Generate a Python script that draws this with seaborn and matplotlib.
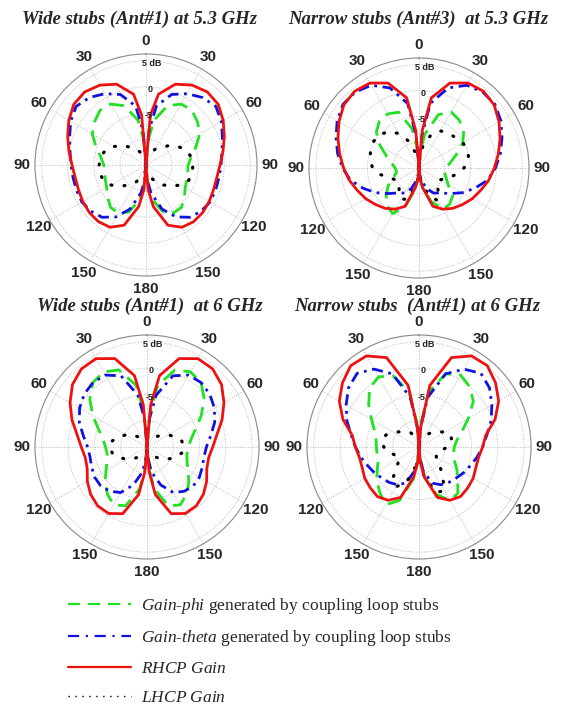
import numpy as np
import matplotlib
matplotlib.use('Agg')
import matplotlib.pyplot as plt
from matplotlib.lines import Line2D
import seaborn as sns

sns.set_style('white')
plt.rcParams['font.family'] = ['Liberation Sans', 'DejaVu Sans']
plt.rcParams['mathtext.fontset'] = 'custom'
plt.rcParams['mathtext.rm'] = 'Liberation Serif'
plt.rcParams['mathtext.it'] = 'Liberation Serif:italic'

# angle in degrees, clockwise from 0 at the top (extra points near the nulls)
angles = [0, 5, 10, 20, 30, 40, 50, 60, 70, 80, 90, 100, 110, 120, 130, 140, 150, 160, 170, 175,
          180, 185, 190, 200, 210, 220, 230, 240, 250, 260, 270, 280, 290, 300, 310, 320, 330, 340, 350, 355]
theta_labels = ['0', '30', '60', '90', '120', '150', '180', '150', '120', '90', '60', '30']
ring_values = [-10, -5, 0, 5]
ring_labels = ['', '-5', '0', '5 dB']

# gain in dB at the angles above
# Wide stubs (Ant#1) at 5.3 GHz
wide53_phi = [-15, -10.2, -6.3, -2.9, -1.5, -1.3, -2.1, -3.1, -4.8, -6.2, -6.9, -6.9, -6.7, -6.3, -5.4, -4.4, -4.4, -5.4, -8.3, -11.5,
              -15, -11.5, -8.3, -5.4, -4.4, -4.4, -5.4, -6.3, -6.7, -6.9, -6.9, -6.2, -4.8, -3.1, -2.1, -1.3, -1.5, -2.9, -6.3, -10.2]
wide53_theta = [-15, -8.3, -3.5, -0.6, 0.8, 1.9, 2.5, 1.7, 0.6, -0.2, -0.6, -0.8, -0.8, -0.8, -1.2, -1.9, -3.5, -6.0, -9.6, -12.1,
                -15, -12.1, -9.6, -6.0, -3.5, -1.9, -1.2, -0.8, -0.8, -0.8, -0.6, -0.2, 0.6, 1.7, 2.5, 1.9, 0.8, -0.6, -3.5, -8.3]
wide53_rhcp = [-15, -5.4, -1.2, 1.5, 2.7, 3.3, 3.1, 2.1, 1.0, 0.0, -0.8, -1.2, -1.2, -1.0, -0.8, -0.8, -1.2, -2.7, -6.9, -10.2,
               -15, -10.2, -6.9, -2.7, -1.2, -0.8, -0.8, -1.0, -1.2, -1.2, -0.8, 0.0, 1.0, 2.1, 3.1, 3.3, 2.7, 1.5, -1.2, -5.4]
wide53_lhcp = [-14, -13.8, -13.5, -12.7, -11.5, -10.6, -9.2, -7.9, -6.7, -6.2, -6.0, -6.0, -6.3, -7.3, -8.7, -10.0, -11.3, -12.5, -13.5, -13.8,
               -14, -13.8, -13.5, -12.5, -11.3, -10.0, -8.7, -7.3, -6.3, -6.0, -6.0, -6.2, -6.7, -7.9, -9.2, -10.6, -11.5, -12.7, -13.5, -13.8]

# Narrow stubs (Ant#3) at 5.3 GHz
narrow53_phi = [-15, -11.5, -8.3, -4.0, -2.5, -2.9, -3.7, -5.2, -7.3, -8.8, -9.8, -10.0, -9.4, -8.5, -6.5, -5.8, -5.8, -8.1, -11.2, -13.5,
                -15, -13.0, -10.8, -6.9, -4.8, -5.4, -6.7, -8.1, -9.8, -10.6, -10.4, -9.6, -8.3, -6.3, -4.2, -3.1, -2.9, -3.5, -7.3, -11.2]
narrow53_theta = [-15, -8.7, -2.3, 1.5, 3.5, 4.2, 4.2, 3.3, 2.1, 1.0, -0.2, -1.5, -3.5, -5.4, -7.3, -8.7, -9.4, -10.8, -12.7, -14,
                  -15, -14, -12.7, -10.8, -9.4, -8.7, -7.3, -5.4, -3.5, -1.5, -0.2, 1.0, 2.1, 3.3, 4.2, 4.2, 3.5, 1.5, -2.3, -8.7]
narrow53_rhcp = [-15, -7.7, -1.2, 2.5, 4.0, 4.4, 4.0, 2.9, 1.7, 0.6, -0.4, -1.3, -2.3, -3.1, -4.0, -4.8, -5.8, -7.1, -11.2, -13.1,
                 -15, -13.1, -11.2, -7.1, -5.8, -4.8, -4.0, -3.1, -2.3, -1.3, -0.4, 0.6, 1.7, 2.9, 4.0, 4.4, 4.0, 2.5, -1.2, -7.7]
narrow53_lhcp = [-13.5, -12.5, -10.8, -8.1, -6.7, -6.2, -5.8, -5.2, -5.0, -5.2, -6.3, -7.7, -9.2, -10.4, -10.6, -9.2, -7.7, -9.2, -12.1, -13.0,
                 -14, -13.0, -11.5, -8.5, -8.1, -9.0, -10.0, -10.2, -9.2, -7.5, -6.0, -5.4, -5.0, -4.8, -5.0, -5.8, -7.3, -9.6, -12.5, -13.2]

# Wide stubs (Ant#1) at 6 GHz
wide6_phi = [-15, -8.3, -3.1, 0.6, 1.5, 1.0, -0.8, -3.1, -5.2, -6.5, -7.1, -7.3, -6.9, -6.0, -4.6, -3.3, -2.3, -3.1, -6.9, -10.8,
             -15, -10.8, -6.9, -3.1, -2.3, -3.3, -4.6, -6.0, -6.9, -7.3, -7.1, -6.5, -5.2, -3.1, -0.8, 1.0, 1.5, 0.6, -3.1, -8.3]
wide6_theta = [-15, -9.6, -5.0, -0.6, 0.8, 1.0, 0.6, -0.2, -1.3, -2.7, -3.7, -4.0, -3.8, -3.5, -3.5, -4.0, -5.0, -7.3, -10.2, -13,
               -15, -13, -10.2, -7.3, -5.0, -4.0, -3.5, -3.5, -3.8, -4.0, -3.7, -2.7, -1.3, -0.2, 0.6, 1.0, 0.8, -0.6, -5.0, -9.6]
wide6_rhcp = [-15, -6.9, -1.2, 2.9, 4.4, 4.4, 3.5, 1.9, 0.2, -1.5, -2.5, -3.1, -2.9, -1.9, -1.0, -0.4, -0.4, -1.5, -5.8, -10.2,
              -15, -10.2, -5.8, -1.5, -0.4, -0.4, -1.0, -1.9, -2.9, -3.1, -2.5, -1.5, 0.2, 1.9, 3.5, 4.4, 4.4, 2.9, -1.2, -6.9]
wide6_lhcp = [-14.4, -14.3, -14.2, -13.8, -13.3, -12.5, -11.5, -10.4, -9.2, -8.3, -7.9, -8.3, -9.2, -10.4, -11.5, -12.5, -13.3, -13.8, -14.2, -14.3,
              -14.4, -14.3, -14.2, -13.8, -13.3, -12.5, -11.5, -10.4, -9.2, -8.3, -7.9, -8.3, -9.2, -10.4, -11.5, -12.5, -13.3, -13.8, -14.2, -14.3]

# Narrow stubs (Ant#1) at 6 GHz
narrow6_phi = [-15, -10.2, -4.4, -0.2, 0.8, 0.0, -1.5, -4.2, -6.3, -7.7, -8.3, -8.3, -7.9, -6.7, -5.4, -3.5, -3.3, -5.4, -9.2, -12.5,
               -15, -12.0, -8.8, -4.2, -2.3, -3.5, -4.6, -5.8, -6.7, -6.9, -6.9, -6.7, -6.0, -4.6, -2.5, -0.4, 0.4, -0.6, -4.4, -10.2]
narrow6_theta = [-15, -11.2, -5.4, -0.2, 2.1, 3.3, 2.5, 1.0, -0.4, -1.9, -2.9, -3.8, -4.6, -5.2, -5.8, -6.2, -6.7, -7.7, -10.4, -13,
                 -15, -13, -10.4, -7.7, -6.7, -6.2, -5.8, -5.2, -4.6, -3.8, -2.9, -1.9, -0.4, 1.0, 2.5, 3.3, 2.1, -0.2, -5.4, -11.2]
narrow6_rhcp = [-15, -11.2, -3.1, 3.1, 5.0, 5.2, 4.0, 2.5, 0.4, -2.1, -2.9, -3.5, -3.5, -3.1, -2.9, -2.7, -3.3, -4.8, -9.2, -12.1,
                -15, -12.1, -9.2, -4.8, -3.3, -2.7, -2.9, -3.1, -3.5, -3.5, -2.9, -2.1, 0.4, 2.5, 4.0, 5.2, 5.0, 3.1, -3.1, -11.2]
narrow6_lhcp = [-14, -14, -13.7, -13.1, -12.3, -11.5, -10.6, -9.2, -8.5, -8.7, -9.6, -10.8, -11.5, -11.2, -10.0, -8.0, -5.4, -5.8, -9.5, -12.0,
                -14, -12.5, -11.2, -7.7, -6.3, -7.3, -9.6, -10.8, -10.4, -9.0, -8.3, -7.9, -8.3, -9.6, -10.4, -11.2, -11.9, -12.9, -13.7, -14]

titles = ['Wide stubs (Ant#1) at 5.3 GHz', 'Narrow stubs (Ant#3)  at 5.3 GHz',
          'Wide stubs (Ant#1)  at 6 GHz', 'Narrow stubs  (Ant#1) at 6 GHz']

styles = {
    'phi': dict(color='#22e022', linestyle=(0, (5.5, 3)), lw=2.0),
    'theta': dict(color='#1010e0', linestyle=(0, (4, 2, 1, 2)), lw=2.0),
    'lhcp': dict(color='black', linestyle=(0, (0.3, 3.8)), lw=2.3, dash_capstyle='round'),
    'rhcp': dict(color='#ee1111', linestyle='-', lw=2.0, solid_joinstyle='round'),
}

W, H = 562, 707
fig = plt.figure(figsize=(W / 100, H / 100), dpi=100)

panels = [
    # (center x, center y, radius) in pixels, (title x, title y)
    ((146, 165, 111), (139, 19), titles[0], dict(phi=wide53_phi, theta=wide53_theta, rhcp=wide53_rhcp, lhcp=wide53_lhcp)),
    ((419, 168, 110), (418, 19), titles[1], dict(phi=narrow53_phi, theta=narrow53_theta, rhcp=narrow53_rhcp, lhcp=narrow53_lhcp)),
    ((147, 447, 112), (150, 306), titles[2], dict(phi=wide6_phi, theta=wide6_theta, rhcp=wide6_rhcp, lhcp=wide6_lhcp)),
    ((419, 447, 112), (417, 306), titles[3], dict(phi=narrow6_phi, theta=narrow6_theta, rhcp=narrow6_rhcp, lhcp=narrow6_lhcp)),
]

th = np.deg2rad(angles + [360])
for (cx, cy, r), (tx, ty), title, series in panels:
    ax = fig.add_axes([(cx - r) / W, 1 - (cy + r) / H, 2 * r / W, 2 * r / H], projection='polar')
    ax.set_theta_zero_location('N')
    ax.set_theta_direction(-1)
    for key in ['phi', 'theta', 'lhcp', 'rhcp']:
        vals = series[key] + series[key][:1]
        sns.lineplot(x=th, y=vals, ax=ax, sort=False, estimator=None, legend=False, **styles[key])
    ax.set_ylim(-15, 6.3)
    ax.set_thetagrids(range(0, 360, 30), labels=theta_labels, fontsize=11, fontweight='bold')
    ax.tick_params(axis='x', pad=-1)
    ax.set_yticks(ring_values)
    ax.set_yticklabels([])
    for v, lab in zip(ring_values, ring_labels):
        ax.text(np.deg2rad(3), v - 0.5, lab, fontsize=6.5, fontweight='bold', ha='center', va='center', color='#222222')
    ax.grid(True, color='#b8b8b8', linestyle=':', linewidth=0.7)
    ax.spines['polar'].set_color('#888888')
    ax.spines['polar'].set_linewidth(0.8)
    ax.set_xlabel('')
    ax.set_ylabel('')
    fig.text(tx / W, 1 - ty / H, title, ha='center', va='center',
             family='Liberation Serif', style='italic', weight='bold', fontsize=13.5)

handles = [Line2D([], [], color='#22e022', linestyle=(0, (5.5, 3.5)), lw=1.6),
           Line2D([], [], color='#1010e0', linestyle=(0, (5, 3, 1, 3)), lw=1.6),
           Line2D([], [], color='#ee1111', linestyle='-', lw=1.6),
           Line2D([], [], color='black', linestyle=(0, (1, 4)), lw=1.0)]
labels = [r'$\it{Gain}$-$\it{phi}$ generated by coupling loop stubs',
          r'$\it{Gain}$-$\it{theta}$ generated by coupling loop stubs',
          r'$\it{RHCP\ Gain}$',
          r'$\it{LHCP\ Gain}$']
fig.legend(handles, labels, loc='upper left', bbox_to_anchor=(68 / W, 1 - 596 / H), frameon=False,
           prop={'family': 'Liberation Serif', 'size': 12.5}, handlelength=3.6, handletextpad=0.6,
           labelspacing=0.72, borderpad=0, borderaxespad=0)

fig.savefig('out.png', dpi=100)
